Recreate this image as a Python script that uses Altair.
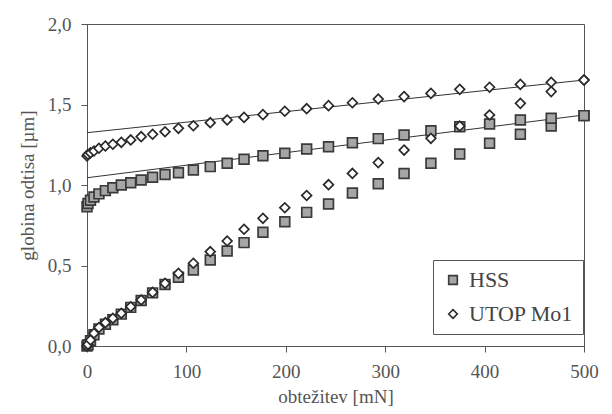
import altair as alt
import pandas as pd

# load steps [mN]
load = [0, 1, 3.5, 7, 12, 18.5, 26, 34.5, 44, 54.5, 66, 78.5, 92, 107, 124,
        141, 158, 177, 199, 221, 243, 267, 293, 319, 346, 375, 405, 436, 467, 500]

# indentation depth [um]
hss_loading = [0.0, 0.008, 0.033, 0.07, 0.105, 0.135, 0.163, 0.198, 0.24, 0.283,
               0.33, 0.382, 0.427, 0.472, 0.534, 0.59, 0.642, 0.706, 0.772, 0.83,
               0.882, 0.95, 1.008, 1.072, 1.135, 1.193, 1.259, 1.315, 1.366, 1.431]
hss_unloading = [0.865, 0.885, 0.905, 0.925, 0.945, 0.965, 0.983, 1.0, 1.014, 1.031,
                 1.048, 1.065, 1.076, 1.093, 1.114, 1.135, 1.16, 1.182, 1.197, 1.224,
                 1.238, 1.263, 1.288, 1.311, 1.337, 1.362, 1.379, 1.404, 1.415, 1.431]
utop_loading = [0.0, 0.01, 0.037, 0.079, 0.115, 0.145, 0.172, 0.203, 0.244, 0.286,
                0.333, 0.389, 0.451, 0.514, 0.586, 0.652, 0.725, 0.793, 0.859, 0.935,
                1.002, 1.072, 1.139, 1.217, 1.29, 1.366, 1.435, 1.507, 1.58, 1.652]
utop_unloading = [1.18, 1.19, 1.2, 1.211, 1.228, 1.242, 1.253, 1.265, 1.28, 1.3,
                  1.315, 1.331, 1.352, 1.368, 1.387, 1.404, 1.42, 1.437, 1.458, 1.474,
                  1.493, 1.511, 1.534, 1.549, 1.569, 1.594, 1.607, 1.625, 1.638, 1.652]

# straight fits of the unloading curves
fit_load = [0, 500]
hss_fit = [1.045, 1.435]
utop_fit = [1.325, 1.652]

series = ["HSS", "UTOP Mo1"]
x_ticks = [0, 100, 200, 300, 400, 500]
y_ticks = [0.0, 0.5, 1.0, 1.5, 2.0]

rows = []
for name, phase, vals in [("HSS", "load", hss_loading), ("HSS", "unload", hss_unloading),
                          ("UTOP Mo1", "load", utop_loading), ("UTOP Mo1", "unload", utop_unloading)]:
    for x, y in zip(load, vals):
        rows.append({"load": x, "depth": y, "series": name, "phase": phase})
pts = pd.DataFrame(rows)

frows = []
for name, vals in [("HSS", hss_fit), ("UTOP Mo1", utop_fit)]:
    for x, y in zip(fit_load, vals):
        frows.append({"load": x, "depth": y, "series": name})
fits = pd.DataFrame(frows)

FONT = "Liberation Serif"
GREY = "#555555"

x_enc = alt.X("load:Q", scale=alt.Scale(domain=[0, 500], nice=False),
              axis=alt.Axis(values=x_ticks, title="obtežitev [mN]", labelFlush=False,
                            labelPadding=10, titlePadding=6))
y_enc = alt.Y("depth:Q", scale=alt.Scale(domain=[0, 2], nice=False),
              axis=alt.Axis(values=y_ticks, title="globina odtisa [µm]",
                            labelExpr="replace(format(datum.value, '.1f'), '.', ',')",
                            labelPadding=10, titlePadding=10))

lines = alt.Chart(fits).mark_line(color="#333333", strokeWidth=1).encode(
    x=x_enc, y=y_enc, detail="series:N"
)

leg = alt.Legend(title=None)
points = alt.Chart(pts).mark_point(filled=True, strokeWidth=1.7,
                                   size=95, opacity=1).encode(
    x=x_enc,
    y=y_enc,
    shape=alt.Shape("series:N", scale=alt.Scale(domain=series, range=["square", "diamond"]),
                    legend=leg),
    fill=alt.Fill("series:N", scale=alt.Scale(domain=series, range=["#a6a6a6", "#ffffff"]),
                  legend=leg),
    stroke=alt.Stroke("series:N", scale=alt.Scale(domain=series, range=["#3a3a3a", "#2a2a2a"]),
                      legend=leg),
    detail="phase:N",
)

chart = alt.layer(lines, points).properties(
    width=497, height=322,
    autosize=alt.AutoSizeParams(type="none"),
    padding={"left": 79, "top": 16, "right": 20, "bottom": 60},
).configure_view(
    stroke=GREY, strokeWidth=1
).configure_axis(
    grid=False, domainColor=GREY, tickColor=GREY, tickSize=6,
    labelFont=FONT, labelFontSize=19, labelColor=GREY,
    titleFont=FONT, titleFontSize=19, titleColor=GREY, titleFontWeight="normal",
).configure_legend(
    orient="none", legendX=346, legendY=236,
    strokeColor=GREY, fillColor="#ffffff", padding=9,
    labelFont=FONT, labelFontSize=22, labelColor="#444444",
    symbolSize=75, symbolStrokeWidth=1.6,
    rowPadding=12, labelOffset=5,
)

chart.save("out.html", embed_options={"renderer": "svg", "actions": False})
